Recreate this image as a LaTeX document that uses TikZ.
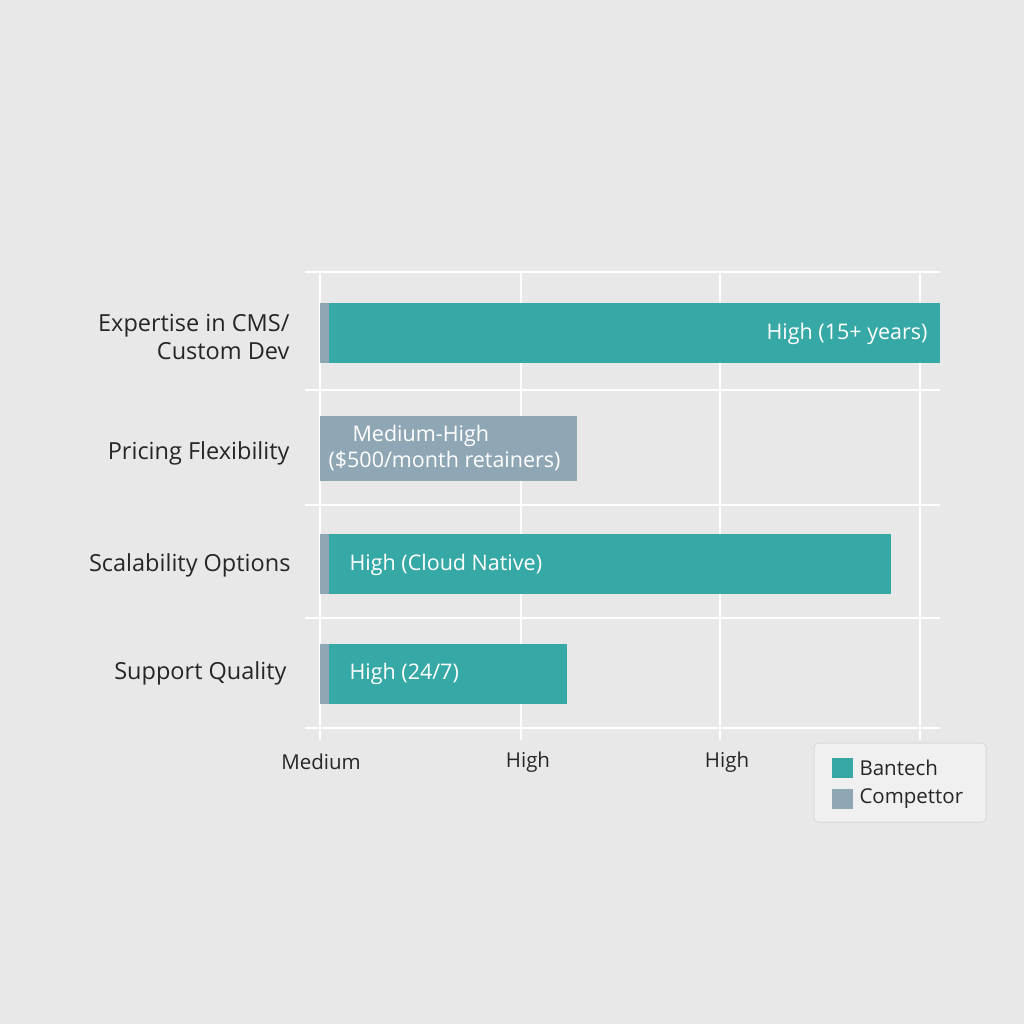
\documentclass[tikz,border=0pt]{standalone}
\usepackage{fontspec}
\setmainfont{Open Sans}
\definecolor{bg}{HTML}{E8E8E8}
\definecolor{teal}{HTML}{36A9A6}
\definecolor{comp}{HTML}{8FA6B5}
\definecolor{legbg}{HTML}{F0F0F0}
\begin{document}
\begin{tikzpicture}[x=1pt,y=-1pt,
  grid/.style={white,line width=1.6pt},
  lab/.style={anchor=east,font=\fontsize{23.5}{28}\selectfont,text=black!85,align=right},
  ax/.style={font=\fontsize{20.5}{24}\selectfont,text=black!85},
  inlab/.style={font=\fontsize{21.5}{26}\selectfont,text=white}]
\fill[bg] (0,0) rectangle (1024,1024);
\useasboundingbox (0,0) rectangle (1024,1024);
\foreach \x in {320,521,720,920} \draw[grid] (\x,272) -- (\x,740);
\foreach \y in {272,390,505,618,728} \draw[grid] (305,\y) -- (940,\y);
% bars
\fill[comp] (320,303) rectangle (329,363);
\fill[teal] (329,303) rectangle (940,363);
\fill[comp] (320,416) rectangle (577,481);
\fill[comp] (320,534) rectangle (329,594);
\fill[teal] (329,534) rectangle (891,594);
\fill[comp] (320,644) rectangle (329,704);
\fill[teal] (329,644) rectangle (567,704);
\node[inlab,anchor=east] (v1) at (931,334) {High (15+ years)};
\node[inlab,anchor=west,align=left] (v2) at (325,448) {\hspace{24pt}Medium-High\\(\$500/month retainers)};
\node[inlab,anchor=west] (v3) at (346,565) {High (Cloud Native)};
\node[inlab,anchor=west] (v4) at (346,674) {High (24/7)};
\node[lab] (l1) at (293,337) {Expertise in CMS/\\Custom Dev\hspace{4pt}};
\node[lab] (l2) at (293,453) {Pricing Flexibility};
\node[lab] (l3) at (294,565) {Scalability Options};
\node[lab] (l4) at (290,673) {Support Quality};
\node[ax] (a1) at (321,762) {Medium};
\node[ax] (a2) at (528,762) {High};
\node[ax] (a3) at (727,762) {High};
\draw[black!15,fill=legbg,rounded corners=4pt,line width=1pt] (814,743) rectangle (986,822);
\fill[teal] (832,758) rectangle (853,778);
\fill[comp] (832,789) rectangle (853,809);
\node[ax,anchor=west] (g1) at (856,768) {Bantech};
\node[ax,anchor=west] (g2) at (856,799) {Compettor};
\end{tikzpicture}
\end{document}
